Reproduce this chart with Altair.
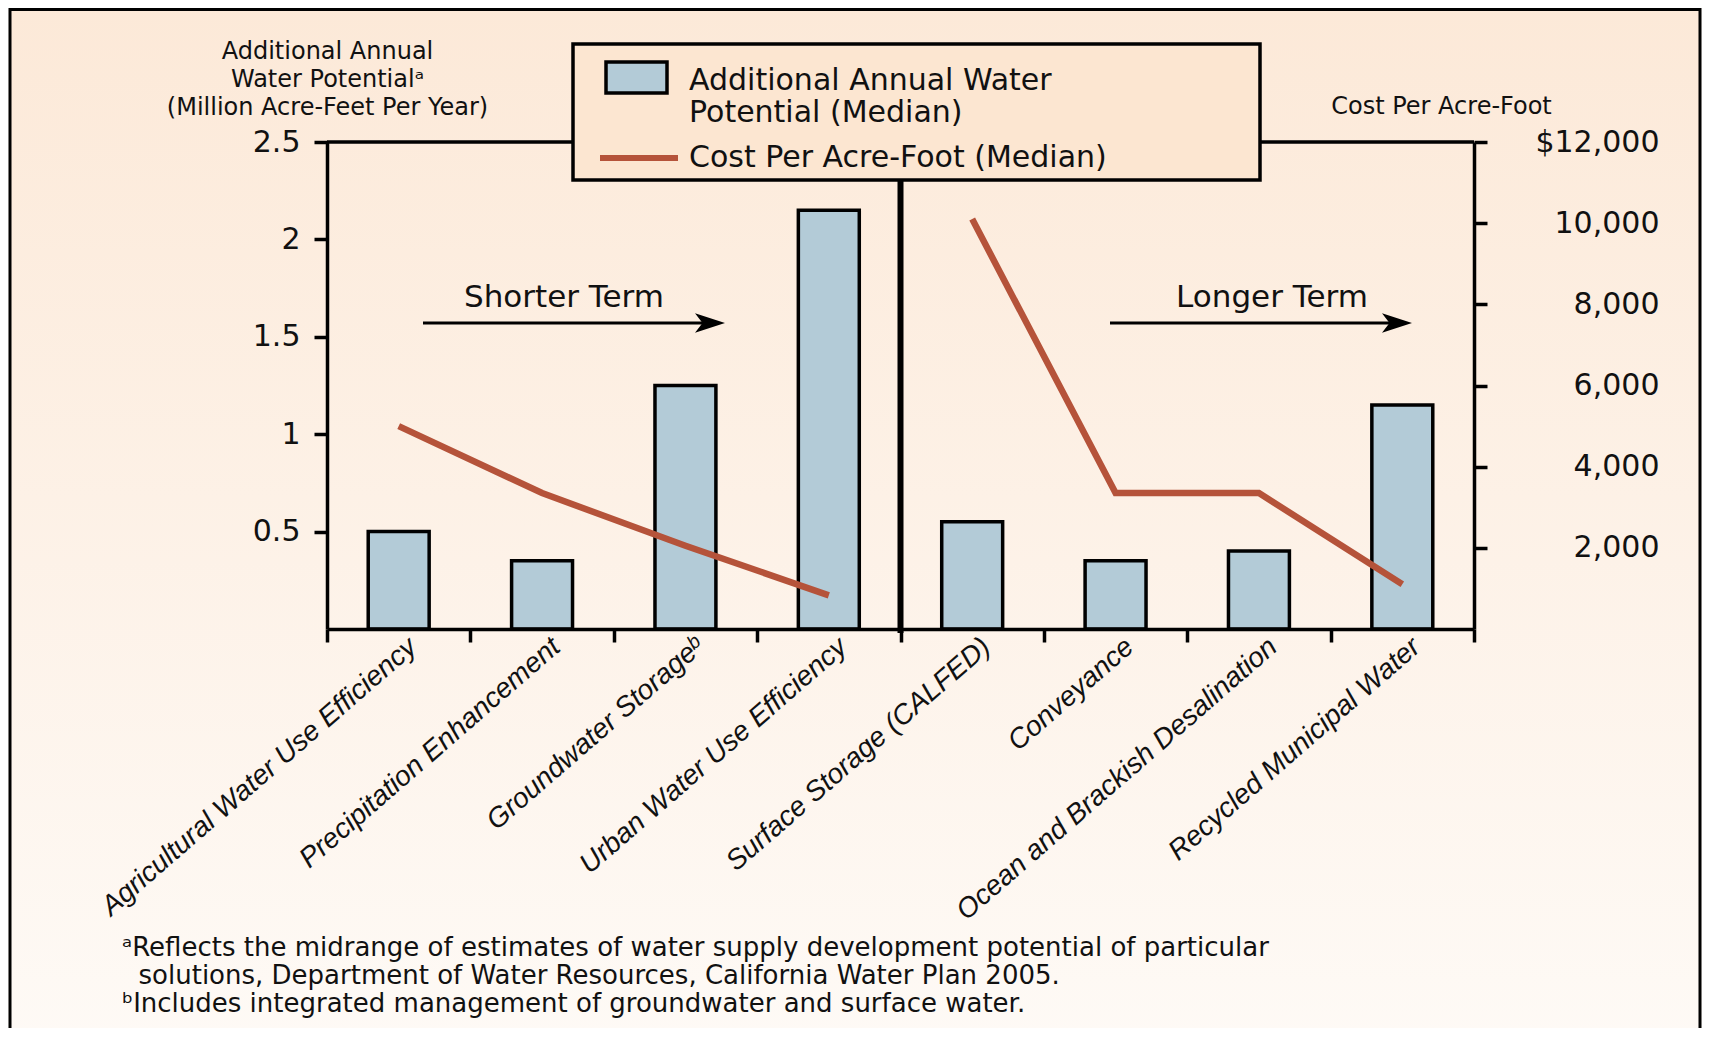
import altair as alt
import pandas as pd

# ---------------- data ----------------
categories = [
    "Agricultural Water Use Efficiency",
    "Precipitation Enhancement",
    "Groundwater Storage\u1d47",
    "Urban Water Use Efficiency",
    "Surface Storage (CALFED)",
    "Conveyance",
    "Ocean and Brackish Desalination",
    "Recycled Municipal Water",
]
water_potential = [0.5, 0.35, 1.25, 2.15, 0.55, 0.35, 0.4, 1.15]
cost_per_acre_foot = [5000, 3350, 2050, 830, 10100, 3350, 3350, 1100]
term = ["Shorter Term"] * 4 + ["Longer Term"] * 4

left_ticks = [0.5, 1, 1.5, 2, 2.5]
right_ticks = [2000, 4000, 6000, 8000, 10000, 12000]
right_tick_labels = ["2,000", "4,000", "6,000", "8,000", "10,000", "$12,000"]
left_title = ["Additional Annual", "Water Potential\u1d43", "(Million Acre-Feet Per Year)"]
right_title = "Cost Per Acre-Foot"
legend_bar_label = ["Additional Annual Water", "Potential (Median)"]
legend_line_label = "Cost Per Acre-Foot (Median)"
term_labels = ["Shorter Term", "Longer Term"]
footnotes = [
    "\u1d43Reflects the midrange of estimates of water supply development potential of particular",
    "\u200b\u00a0\u00a0solutions, Department of Water Resources, California Water Plan 2005.",
    "\u1d47Includes integrated management of groundwater and surface water.",
]

# ---------------- style ----------------
BAR_FILL = "#B3CBD7"
LINE_COLOR = "#B5533A"
LEGEND_FILL = "#FCE6D1"
BG_TOP = "#FCE9D8"
BG_BOTTOM = "#FEFAF6"
WIDE_FONT = "DejaVu Sans"
PLAIN_FONT = "Liberation Sans"
INK = "#111111"

W, H = 1147, 487
PAD = {"left": 319, "top": 134, "right": 228, "bottom": 399}

df = pd.DataFrame({
    "idx": list(range(len(categories))),
    "category": categories,
    "potential": water_potential,
    "cost": cost_per_acre_foot,
    "term": term,
})
one = pd.DataFrame({"k": [0]})

right_expr = "''"
for v, lab in zip(right_ticks, right_tick_labels):
    right_expr = f"datum.value == {v} ? '{lab}' : ({right_expr})"

x_enc = alt.X(
    "category:N",
    sort=categories,
    scale=alt.Scale(paddingInner=0, paddingOuter=0),
    axis=alt.Axis(
        title=None, zindex=1,
        tickBand="extent",
        domainColor="black", domainWidth=3.5,
        tickColor="black", tickWidth=3.5, tickSize=13,
        labelAngle=-41, labelAlign="right", labelBaseline="middle",
        labelOffset=14, labelPadding=1,
        labelFont=PLAIN_FONT, labelFontStyle="italic", labelFontSize=28,
        labelColor=INK, labelLimit=600,
    ),
)

# background + frame
bg = alt.Chart(one).mark_rect(
    fill={"gradient": "linear", "x1": 0, "y1": 0, "x2": 0, "y2": 1,
          "stops": [{"offset": 0, "color": BG_TOP}, {"offset": 1, "color": BG_BOTTOM}]},
    stroke="black", strokeWidth=3,
).encode(
    x=alt.value(-PAD["left"] + 2), x2=alt.value(W + PAD["right"] - 2),
    y=alt.value(-PAD["top"] + 1.5), y2=alt.value(H + PAD["bottom"] + 20),
)

# top edge of the plot frame
top_edge = alt.Chart(one).mark_rule(color="black", strokeWidth=3.5).encode(
    x=alt.value(0), x2=alt.value(W), y=alt.value(0)
)

bars = alt.Chart(df).mark_bar(
    width={"band": 0.425}, fill=BAR_FILL, stroke="black", strokeWidth=3.5
).encode(
    x=x_enc,
    y=alt.Y(
        "potential:Q",
        scale=alt.Scale(domain=[0, 2.5], nice=False, zero=True),
        axis=alt.Axis(
            orient="left", values=left_ticks, format="~g", grid=False, zindex=1,
            domainColor="black", domainWidth=3.5,
            tickColor="black", tickWidth=3.5, tickSize=13,
            labelFont=WIDE_FONT, labelFontSize=30, labelColor=INK,
            labelPadding=14,
            title=left_title, titleAngle=0, titleX=0, titleY=-103,
            titleAlign="center", titleBaseline="top", titleLineHeight=28,
            titleFont=WIDE_FONT, titleFontSize=24, titleFontWeight="normal",
            titleColor=INK,
        ),
    ),
)

line = alt.Chart(df).mark_line(
    color=LINE_COLOR, strokeWidth=6.5, strokeJoin="miter", strokeCap="butt"
).encode(
    x=alt.X("category:N", sort=categories),
    y=alt.Y(
        "cost:Q",
        scale=alt.Scale(domain=[0, 12000], nice=False),
        axis=alt.Axis(
            orient="right", values=right_ticks, labelExpr=right_expr, grid=False, zindex=1,
            domainColor="black", domainWidth=3.5,
            tickColor="black", tickWidth=3.5, tickSize=13,
            labelFont=WIDE_FONT, labelFontSize=30, labelColor=INK,
            labelAlign="right", labelPadding=172,
            title=right_title, titleAngle=0, titleX=-33, titleY=-36,
            titleAlign="center", titleBaseline="middle",
            titleFont=WIDE_FONT, titleFontSize=24, titleFontWeight="normal",
            titleColor=INK,
        ),
    ),
    detail="term:N",
    order=alt.Order("idx:Q"),
)

divider = alt.Chart(one).mark_rule(color="black", strokeWidth=6).encode(
    x=alt.value(W / 2), y=alt.value(38), y2=alt.value(H + 4)
)

# term annotations (arrows)
arrow_head = "M-1,-0.65 L1,0 L-1,0.65 L-0.5,0 Z"
term_layers = []
for label, x0, x1, xt in [(term_labels[0], 96, 398, 237), (term_labels[1], 783, 1085, 945)]:
    term_layers.append(alt.Chart(one).mark_rule(color="black", strokeWidth=3).encode(
        x=alt.value(x0), x2=alt.value(x1 - 12), y=alt.value(181)))
    term_layers.append(alt.Chart(one).mark_point(
        shape=arrow_head, filled=True, color="black", opacity=1, size=900).encode(
        x=alt.value(x1 - 15), y=alt.value(181)))
    term_layers.append(alt.Chart(one).mark_text(
        font=WIDE_FONT, fontSize=31, color=INK, align="center", baseline="middle").encode(
        x=alt.value(xt), y=alt.value(156), text=alt.value(label)))

# legend
leg_box = alt.Chart(one).mark_rect(fill=LEGEND_FILL, stroke="black", strokeWidth=3.5).encode(
    x=alt.value(246), x2=alt.value(933), y=alt.value(-98), y2=alt.value(38))
leg_sym = alt.Chart(one).mark_rect(fill=BAR_FILL, stroke="black", strokeWidth=3.5).encode(
    x=alt.value(279), x2=alt.value(340), y=alt.value(-80), y2=alt.value(-49))
leg_line = alt.Chart(one).mark_rule(color=LINE_COLOR, strokeWidth=6).encode(
    x=alt.value(273), x2=alt.value(351), y=alt.value(16))
leg_txt1 = alt.Chart(one).mark_text(
    font=WIDE_FONT, fontSize=30, color=INK, align="left", baseline="top", lineHeight=32).encode(
    x=alt.value(362), y=alt.value(-76), text=alt.value(legend_bar_label))
leg_txt2 = alt.Chart(one).mark_text(
    font=WIDE_FONT, fontSize=30, color=INK, align="left", baseline="middle").encode(
    x=alt.value(362), y=alt.value(16), text=alt.value(legend_line_label))

foot = alt.Chart(one).mark_text(
    font=WIDE_FONT, fontSize=26, color=INK, align="left", baseline="top", lineHeight=28).encode(
    x=alt.value(-205), y=alt.value(793), text=alt.value(footnotes))

chart = alt.layer(
    bg, bars, line, top_edge, divider, *term_layers,
    leg_box, leg_sym, leg_line, leg_txt1, leg_txt2, foot
).resolve_scale(y="independent").properties(
    width=W, height=H, padding=PAD, autosize=alt.AutoSizeParams(type="none"),
    background=BG_BOTTOM,
).configure_view(strokeWidth=0)

chart.save("out.html", embed_options={"renderer": "svg", "actions": False})
